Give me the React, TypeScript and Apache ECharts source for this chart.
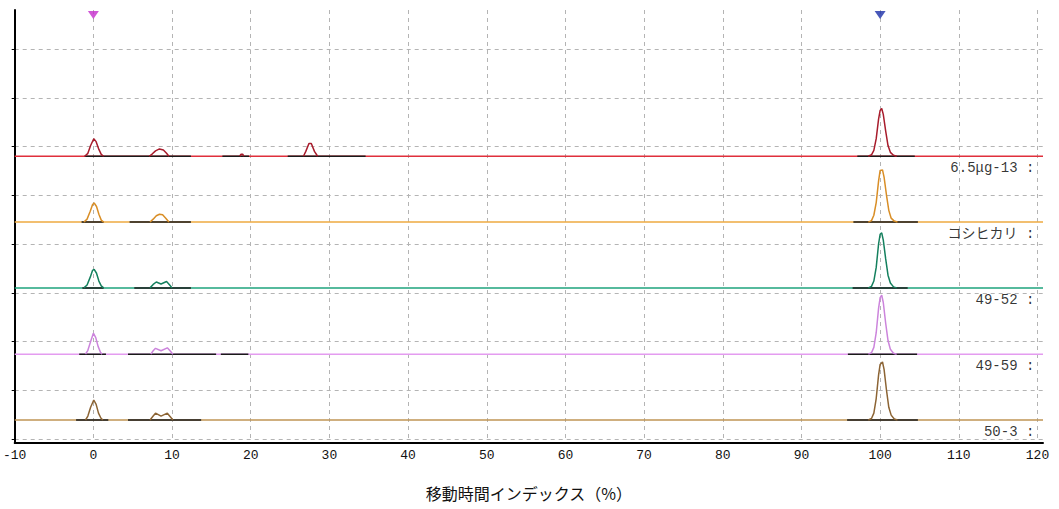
import React, { useEffect, useRef } from "react";
import * as echarts from "echarts";

// Axis ranges and tick positions
const xMin = -10;
const xMax = 120.7;
const xTickValues = [-10, 0, 10, 20, 30, 40, 50, 60, 70, 80, 90, 100, 110, 120];
const yMin = -4.1;
const yMax = 440;
const yGridValues = [0, 50, 100, 150, 200, 250, 300, 350, 400];

// Samples, drawn top to bottom
const sampleNames = ["6.5μg-13 :", "コシヒカリ :", "49-52 :", "49-59 :", "50-3 :"];
const baselineOffsets = [290, 222.5, 155, 87, 19.5];
const lineColors = ["#e0303c", "#eeaa40", "#1ea37c", "#e49cf0", "#bf9555"];
const peakColors = ["#a81c2c", "#d98e26", "#14805e", "#cc84dc", "#8c6434"];

// Peak profiles per sample: [mobility index, signal above baseline]
const peaks6513: [number, number][][] = [
  [[-1.1, 0], [-0.7, 3], [-0.35, 11], [0.05, 18], [0.35, 15], [0.7, 7], [1.0, 2], [1.3, 0]],
  [[7.1, 0], [7.5, 2.5], [7.9, 5.5], [8.4, 7.5], [8.9, 6.5], [9.3, 3], [9.6, 0]],
  [[18.6, 0], [18.75, 2], [19.0, 2], [19.1, 0]],
  [[26.7, 0], [27.0, 5], [27.4, 13], [27.7, 13], [28.1, 5], [28.5, 0]],
  [[98.5, 0], [98.9, 1.5], [99.2, 6], [99.5, 18], [99.8, 38], [100.0, 47], [100.2, 49], [100.4, 43], [100.7, 26], [101.0, 11], [101.3, 4], [101.7, 1], [102.1, 0]],
];
const peaksKoshihikari: [number, number][][] = [
  [[-1.2, 0], [-0.8, 3], [-0.4, 11], [-0.1, 18], [0.1, 19.5], [0.4, 16], [0.7, 8], [1.0, 2], [1.3, 0]],
  [[7.2, 0], [7.6, 3], [8.0, 6.5], [8.4, 8], [8.8, 7.5], [9.2, 4], [9.6, 0]],
  [[98.5, 0], [98.9, 1.5], [99.2, 7], [99.5, 20], [99.8, 42], [100.0, 53], [100.3, 53.5], [100.5, 46], [100.8, 28], [101.1, 12], [101.4, 4], [101.8, 1], [102.2, 0]],
];
const peaks4952: [number, number][][] = [
  [[-1.2, 0], [-0.8, 3], [-0.4, 11], [-0.1, 18], [0.1, 19], [0.4, 15], [0.7, 7], [1.0, 2], [1.3, 0]],
  [[7.2, 0], [7.6, 3.5], [8.0, 6], [8.6, 4], [9.3, 6.5], [9.7, 3], [10.0, 0]],
  [[98.5, 0], [98.9, 1.5], [99.2, 7], [99.5, 21], [99.8, 45], [100.0, 55], [100.2, 56.5], [100.4, 49], [100.7, 30], [101.0, 13], [101.3, 5], [101.7, 1], [102.1, 0]],
];
const peaks4959: [number, number][][] = [
  [[-1.0, 0], [-0.7, 4], [-0.35, 13], [0.0, 21.5], [0.3, 17], [0.6, 8], [0.9, 2], [1.1, 0]],
  [[7.3, 0], [7.6, 3.5], [7.9, 6], [8.6, 3.5], [9.4, 6.5], [9.8, 3], [10.1, 0]],
  [[98.5, 0], [98.9, 1.5], [99.2, 7], [99.5, 22], [99.8, 47], [100.0, 58], [100.2, 60.5], [100.4, 53], [100.7, 32], [101.0, 14], [101.3, 5], [101.7, 1], [102.1, 0]],
];
const peaks503: [number, number][][] = [
  [[-1.0, 0], [-0.7, 4], [-0.35, 13], [0.05, 20.5], [0.35, 16], [0.65, 7], [0.95, 2], [1.2, 0]],
  [[7.2, 0], [7.6, 4], [7.9, 7], [8.6, 4], [9.4, 7], [9.8, 3], [10.1, 0]],
  [[98.5, 0], [98.9, 1.5], [99.2, 7], [99.5, 22], [99.8, 46], [100.0, 57], [100.3, 59.5], [100.5, 52], [100.8, 31], [101.1, 13], [101.4, 5], [101.8, 1], [102.2, 0]],
];
const samplePeaks = [peaks6513, peaksKoshihikari, peaks4952, peaks4959, peaks503];

// Integration baseline ranges per sample: [start, end]
const integration6513: [number, number][] = [[-1.1, 12.4], [16.4, 19.8], [24.7, 34.6], [97.1, 104.4]];
const integrationKoshihikari: [number, number][] = [[-1.5, 1.3], [4.6, 12.4], [96.6, 104.8]];
const integration4952: [number, number][] = [[-1.4, 1.3], [5.2, 12.4], [96.5, 103.5]];
const integration4959: [number, number][] = [[-1.8, 1.6], [4.4, 15.6], [16.2, 19.7], [95.9, 104.7]];
const integration503: [number, number][] = [[-2.2, 1.9], [4.4, 13.7], [95.8, 104.8]];
const sampleIntegration = [integration6513, integrationKoshihikari, integration4952, integration4959, integration503];

// Internal standard markers along the top edge
const markerPositions = [0, 100];
const markerColors = ["#c42ccc", "#1a2ea8"];
const markerLevel = 435;
const labelPosition = 119.6;

const axisName = "移動時間インデックス（%）";

export default function App() {
  const ref = useRef<HTMLDivElement>(null);

  useEffect(() => {
    if (!ref.current) return;
    const chart = echarts.init(ref.current, undefined, { renderer: "svg" });

    const series: any[] = [];
    sampleNames.forEach((name, i) => {
      const off = baselineOffsets[i];
      // colored baseline
      series.push({
        type: "line",
        data: [[xMin, off], [xMax, off]],
        symbol: "none",
        lineStyle: { color: lineColors[i], width: 1.5 },
        silent: true,
      });
      // integration baselines in black
      const segs: any[] = [];
      sampleIntegration[i].forEach(([a, b], k) => {
        if (k > 0) segs.push("-");
        segs.push([a, off], [b, off]);
      });
      series.push({
        type: "line",
        data: segs,
        symbol: "none",
        connectNulls: false,
        lineStyle: { color: "#1a1a1a", width: 1.5 },
        silent: true,
      });
      // peaks
      const pk: any[] = [];
      samplePeaks[i].forEach((p, k) => {
        if (k > 0) pk.push("-");
        p.forEach(([x, h]) => pk.push([x, off + h]));
      });
      series.push({
        type: "line",
        data: pk,
        symbol: "none",
        connectNulls: false,
        lineStyle: { color: peakColors[i], width: 1.5 },
        silent: true,
      });
      // sample label under the trace's right end
      series.push({
        type: "scatter",
        data: [[labelPosition, off]],
        symbolSize: 0,
        silent: true,
        label: {
          show: true,
          position: "left",
          distance: 0,
          offset: [0, 12],
          formatter: name,
          color: "#000",
          fontFamily: "'Liberation Mono', 'Noto Sans CJK JP', monospace",
          fontSize: 14,
        },
      });
    });

    series.push({
      type: "scatter",
      data: markerPositions.map((x, k) => ({
        value: [x, markerLevel],
        itemStyle: { color: markerColors[k] },
      })),
      symbol: "triangle",
      symbolRotate: 180,
      symbolSize: [11, 8],
      silent: true,
    });

    chart.setOption({
      animation: false,
      grid: { left: 13, right: 16, top: 10, bottom: 66, containLabel: false },
      xAxis: {
        type: "value",
        min: xMin,
        max: xMax,
        name: axisName,
        nameLocation: "middle",
        nameGap: 42,
        nameTextStyle: {
          color: "#111",
          fontSize: 16,
          fontFamily: "'Noto Sans CJK JP', sans-serif",
        },
        axisLine: { onZero: false, lineStyle: { color: "#000", width: 2 } },
        axisTick: { show: false, customValues: xTickValues },
        axisLabel: {
          customValues: xTickValues,
          color: "#111",
          fontSize: 13,
          fontFamily: "'Liberation Mono', monospace",
          margin: 6,
        },
        splitLine: {
          show: true,
          lineStyle: { color: "#b4b4b4", type: [4, 4], width: 1 },
        },
      },
      yAxis: {
        type: "value",
        min: yMin,
        max: yMax,
        axisLine: { show: true, onZero: false, lineStyle: { color: "#000", width: 2 } },
        axisTick: { show: true, length: 3, customValues: yGridValues, lineStyle: { color: "#000" } },
        axisLabel: { show: false },
        splitLine: {
          show: true,
          lineStyle: { color: "#b4b4b4", type: [4, 4], width: 1 },
        },
      },
      series,
    });

    return () => chart.dispose();
  }, []);

  return (
    <div
      ref={ref}
      style={{ position: "fixed", left: 0, top: 0, width: 1059, height: 509, background: "#fff" }}
    />
  );
}
